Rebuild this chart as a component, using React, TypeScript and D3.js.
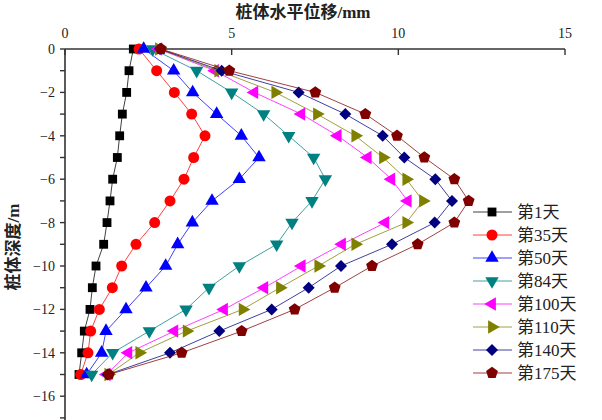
import React from 'react';
import * as d3 from 'd3';

const depths = [0, -1, -2, -3, -4, -5, -6, -7, -8, -9, -10, -11, -12, -13, -14, -15];

const seriesNames = ['第1天', '第35天', '第50天', '第84天', '第100天', '第110天', '第140天', '第175天'];
const seriesColors = ['#000000', '#ff0000', '#0000ff', '#008080', '#ff00ff', '#808000', '#000080', '#800000'];
const seriesShapes = ['square', 'circle', 'triUp', 'triDown', 'triLeft', 'triRight', 'diamond', 'pentagon'];

const day1 = [2.05, 1.92, 1.85, 1.72, 1.64, 1.57, 1.43, 1.35, 1.26, 1.16, 0.93, 0.82, 0.75, 0.58, 0.5, 0.42];
const day35 = [2.22, 2.75, 3.28, 3.8, 4.2, 3.86, 3.57, 3.15, 2.69, 2.13, 1.7, 1.42, 1.03, 0.77, 0.69, 0.47];
const day50 = [2.36, 3.26, 3.83, 4.55, 5.29, 5.82, 5.23, 4.41, 3.82, 3.38, 3.02, 2.43, 1.83, 1.23, 1.1, 0.65];
const day84 = [2.63, 3.95, 5.0, 5.96, 6.71, 7.46, 7.81, 7.41, 6.81, 6.35, 5.23, 4.32, 3.63, 2.53, 1.43, 0.8];
const day100 = [2.8, 4.5, 5.68, 7.09, 8.18, 9.08, 9.79, 10.28, 9.61, 8.31, 7.1, 5.98, 4.77, 3.28, 1.9, 1.25];
const day110 = [2.82, 4.6, 6.31, 7.56, 8.71, 9.54, 10.24, 10.74, 10.24, 8.71, 7.6, 6.45, 5.33, 3.65, 2.23, 1.3];
const day140 = [2.85, 4.7, 7.01, 8.41, 9.53, 10.18, 11.11, 11.61, 11.09, 9.81, 8.28, 7.31, 6.2, 4.63, 3.15, 1.28];
const day175 = [2.88, 4.93, 7.51, 9.01, 9.96, 10.78, 11.68, 12.11, 11.68, 10.58, 9.21, 8.09, 6.89, 5.3, 3.5, 1.32];

const seriesValues = [day1, day35, day50, day84, day100, day110, day140, day175];

const xTicks = [0, 5, 10, 15];
const yMajorTicks = [0, -2, -4, -6, -8, -10, -12, -14, -16];
const yMinorTicks = d3.range(0, -18, -1);

const W = 602;
const H = 420;
const FONT = '"Liberation Serif", "Noto Sans CJK SC", serif';

const x = d3.scaleLinear().domain([0, 15]).range([65, 565]);
const y = d3.scaleLinear().domain([0, -17.5]).range([49, 49 + 17.5 * 21.7]);

// pentagon path centred on 0,0
const pentagon = (r: number) => {
  const pts = d3.range(5).map(i => {
    const a = -Math.PI / 2 + (i * 2 * Math.PI) / 5;
    return [r * Math.cos(a), r * Math.sin(a)];
  });
  return 'M' + pts.map(p => p.join(',')).join('L') + 'Z';
};

const Marker: React.FC<{ shape: string; color: string; cx: number; cy: number }> = ({ shape, color, cx, cy }) => {
  let d = '';
  let rot = 0;
  if (shape === 'square') d = d3.symbol(d3.symbolSquare, 78)() as string;
  else if (shape === 'circle') d = d3.symbol(d3.symbolCircle, 95)() as string;
  else if (shape === 'diamond') { d = d3.symbol(d3.symbolSquare, 72)() as string; rot = 45; }
  else if (shape === 'pentagon') d = pentagon(6.2);
  else {
    d = d3.symbol(d3.symbolTriangle, 78)() as string;
    rot = shape === 'triDown' ? 180 : shape === 'triLeft' ? -90 : shape === 'triRight' ? 90 : 0;
  }
  return <path d={d} fill={color} transform={`translate(${cx},${cy}) rotate(${rot})`} />;
};

export default function App() {
  const line = d3.line<number>()
    .x(v => x(v))
    .y((_, i) => y(depths[i]));

  return (
    <div style={{ position: 'absolute', left: 0, top: 0 }}>
      <svg width={W} height={H} style={{ display: 'block', background: '#fff' }} fontFamily={FONT}>
        {/* title */}
        <text x={303} y={18} textAnchor="middle" fontSize={17} fontWeight="bold" fill="#222">桩体水平位移/mm</text>
        <text transform={`translate(19,247) rotate(-90)`} textAnchor="middle" fontSize={17} fontWeight="bold" fill="#222">桩体深度/m</text>

        {/* x axis on top */}
        <line x1={x(0)} x2={x(15)} y1={y(0)} y2={y(0)} stroke="#333" strokeWidth={1.6} />
        {xTicks.map(t => (
          <g key={t}>
            <line x1={x(t)} x2={x(t)} y1={y(0)} y2={y(0) + 6} stroke="#333" strokeWidth={1.4} />
            <text x={x(t)} y={38} textAnchor="middle" fontSize={14} fill="#222">{t}</text>
          </g>
        ))}

        {/* y axis */}
        <line x1={x(0)} x2={x(0)} y1={y(0)} y2={H} stroke="#333" strokeWidth={1.6} />
        {yMinorTicks.map(t => (
          <line key={t} x1={x(0) - 5} x2={x(0)} y1={y(t)} y2={y(t)} stroke="#333" strokeWidth={1.4} />
        ))}
        {yMajorTicks.map(t => (
          <text key={t} x={55} y={y(t) + 5} textAnchor="end" fontSize={14} fill="#222">
            {t === 0 ? '0' : '\u2212' + Math.abs(t)}
          </text>
        ))}

        {/* series */}
        {seriesValues.map((vals, si) => (
          <g key={si}>
            <path d={line(vals) as string} fill="none" stroke={seriesColors[si]} strokeOpacity={0.75} strokeWidth={1} />
            {vals.map((v, i) => (
              <Marker key={i} shape={seriesShapes[si]} color={seriesColors[si]} cx={x(v)} cy={y(depths[i])} />
            ))}
          </g>
        ))}

        {/* legend */}
        {seriesNames.map((name, si) => {
          const ly = 212 + si * 23;
          return (
            <g key={name}>
              <line x1={473} x2={512} y1={ly} y2={ly} stroke={seriesColors[si]} strokeOpacity={0.75} strokeWidth={1} />
              <Marker shape={seriesShapes[si]} color={seriesColors[si]} cx={492} cy={ly} />
              <text x={517} y={ly + 6} fontSize={17} fill="#222">{name}</text>
            </g>
          );
        })}
      </svg>
    </div>
  );
}
